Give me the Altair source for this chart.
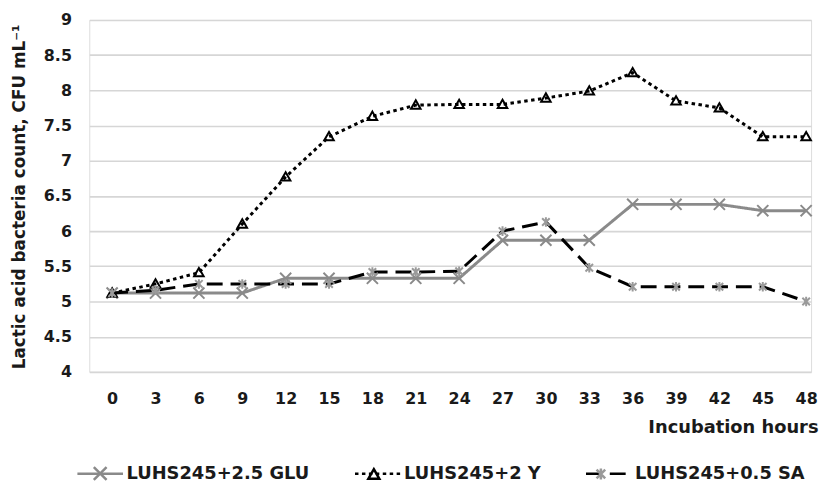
import altair as alt
import pandas as pd

hours = [0, 3, 6, 9, 12, 15, 18, 21, 24, 27, 30, 33, 36, 39, 42, 45, 48]
glu = [5.12, 5.12, 5.12, 5.12, 5.33, 5.33, 5.33, 5.33, 5.33, 5.87, 5.87, 5.87, 6.38, 6.38, 6.38, 6.29, 6.29]
yeast = [5.12, 5.25, 5.41, 6.10, 6.77, 7.34, 7.63, 7.79, 7.80, 7.80, 7.89, 7.99, 8.25, 7.85, 7.75, 7.34, 7.34]
sa = [5.12, 5.16, 5.25, 5.25, 5.25, 5.25, 5.42, 5.42, 5.43, 6.00, 6.13, 5.48, 5.21, 5.21, 5.21, 5.21, 5.00]
series_names = ["LUHS245+2.5 GLU", "LUHS245+2 Y", "LUHS245+0.5 SA"]
y_ticks = [4, 4.5, 5, 5.5, 6, 6.5, 7, 7.5, 8, 8.5, 9]

# marker legend uses a twin field (zero-width-space suffix) so that it is kept
# apart from the line legend and can be overlaid on it
marker_names = [n + "\u200b" for n in series_names]

rows = []
for name, mname, vals in zip(series_names, marker_names, [glu, yeast, sa]):
    for h, v in zip(hours, vals):
        rows.append({"hour": h, "value": v, "series": name, "series2": mname})
df = pd.DataFrame(rows)

FONT = "DejaVu Sans"
TXT = "#1a1a1a"
line_colors = ["#8a8a8a", "#000000", "#000000"]
marker_colors = ["#8a8a8a", "#000000", "#9a9a9a"]
dashes = [[1, 0], [3.5, 3.5], [16, 8]]
shapes = [
    "M-0.28,-0.28L0.28,0.28M-0.28,0.28L0.28,-0.28",
    "M0,-0.24L0.24,0.18L-0.24,0.18Z",
    "M-0.19,-0.19L0.19,0.19M-0.19,0.19L0.19,-0.19M0,-0.24L0,0.24",
]

SYM = 2116
leg_common = dict(
    orient="none", legendX=-13.5, legendY=433, direction="horizontal",
    title=None, symbolSize=SYM, symbolStrokeWidth=2.5, labelOffset=2,
    columnPadding=40, labelFont=FONT, labelFontWeight="bold", labelFontSize=18,
    labelColor=TXT, labelLimit=400, padding=0,
)

x_axis = alt.Axis(
    values=hours, format="d", grid=False, domain=False, ticks=False, tickSize=0,
    labelFont=FONT, labelFontWeight="bold", labelFontSize=16, labelColor=TXT,
    labelBaseline="alphabetic", labelPadding=32,
    title="Incubation hours", titleFont=FONT, titleFontWeight="bold",
    titleFontSize=18, titleColor=TXT, titleAlign="right", titleAnchor="end",
    titleBaseline="alphabetic", titleX=735, titleY=61,
)
y_axis = alt.Axis(
    values=y_ticks, labelExpr="'' + datum.value", grid=True, tickCount=11,
    gridColor="#d6d6d6", gridWidth=1.6, domain=False, ticks=False, tickSize=0,
    labelFont=FONT, labelFontWeight="bold", labelFontSize=16, labelColor=TXT,
    labelPadding=18, labelOverlap=False,
    title="Lactic acid bacteria count, CFU mL⁻¹", titleFont=FONT,
    titleFontWeight="bold", titleFontSize=17, titleColor=TXT,
    titleAngle=-90, titleX=-70, titleY=178, titleAlign="center",
    titleBaseline="middle",
)
x_scale = alt.Scale(domain=[-1.58, 48.34], nice=False, zero=False)
y_scale = alt.Scale(domain=[4, 9], nice=False, zero=False)

lines = alt.Chart(df).mark_line(strokeWidth=3).encode(
    x=alt.X("hour:Q", scale=x_scale, axis=x_axis),
    y=alt.Y("value:Q", scale=y_scale, axis=y_axis),
    color=alt.Color("series:N", scale=alt.Scale(domain=series_names, range=line_colors),
                    legend=alt.Legend(symbolType="stroke", **leg_common)),
    strokeDash=alt.StrokeDash("series:N", scale=alt.Scale(domain=series_names, range=dashes),
                              legend=alt.Legend(symbolType="stroke", **leg_common)),
    detail="series:N",
)

points = alt.Chart(df).mark_point(filled=False, size=1600, strokeWidth=2, opacity=1).encode(
    x=alt.X("hour:Q", scale=x_scale, axis=x_axis),
    y=alt.Y("value:Q", scale=y_scale, axis=y_axis),
    shape=alt.Shape("series2:N", scale=alt.Scale(domain=marker_names, range=shapes),
                    legend=alt.Legend(labelOpacity=0, symbolStrokeColor="#000000", **leg_common)),
    stroke=alt.Stroke("series2:N", scale=alt.Scale(domain=marker_names, range=marker_colors),
                      legend=None),
)

chart = alt.layer(lines, points).properties(
    width=728, height=355,
    autosize=alt.AutoSizeParams(type="none"),
    padding={"left": 82, "top": 10, "right": 8, "bottom": 109},
).configure_view(stroke=None).configure(background="white")

chart.save("out.html", embed_options={"renderer": "svg", "actions": False})
